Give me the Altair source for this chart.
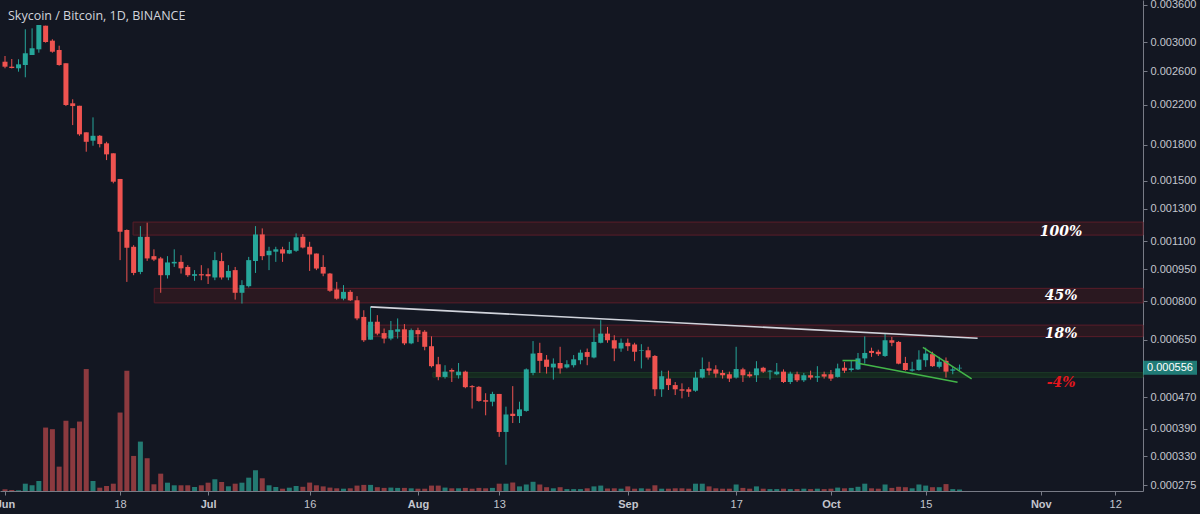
import altair as alt
import pandas as pd

TITLE = "Skycoin / Bitcoin, 1D, BINANCE"

# one daily candle per day, 2018-06-01 .. 2018-10-20
dates = pd.date_range("2018-06-01", periods=142, freq="D").strftime("%Y-%m-%d").tolist()

# prices in micro-BTC (1e-6 BTC)
opens = [2723, 2657, 2636, 2679, 2815, 2895, 3252, 3021, 2885, 2701,
         2215, 2188, 1916, 1837, 1883, 1813, 1724, 1514, 1165, 1068,
         936, 1125, 1017, 1005, 920, 979, 987, 961, 917, 925,
         925, 909, 991, 909, 945, 838, 868, 991, 1139, 1022,
         1041, 1054, 1031, 1046, 1125, 1068, 1031, 961, 928, 853,
         812, 842, 805, 736, 650, 717, 674, 654, 679, 688,
         637, 685, 679, 627, 567, 528, 549, 533, 544, 501,
         499, 462, 458, 479, 383, 427, 421, 434, 540, 604,
         582, 557, 571, 557, 564, 580, 607, 589, 639, 672,
         648, 619, 639, 633, 611, 613, 594, 492, 523, 504,
         492, 492, 488, 526, 554, 551, 540, 536, 526, 551,
         536, 533, 556, 544, 536, 544, 513, 536, 518, 533,
         526, 536, 536, 528, 556, 549, 551, 586, 611, 608,
         594, 648, 642, 571, 547, 549, 580, 600, 559, 578,
         547, 554]
highs = [2801, 2760, 2756, 3195, 3210, 3263, 3252, 3042, 2947, 2701,
         2260, 2188, 1916, 2065, 1890, 1827, 1724, 1514, 1169, 1077,
         1189, 1210, 1054, 1013, 1017, 1054, 1022, 970, 945, 970,
         954, 1040, 1035, 970, 961, 896, 1013, 1189, 1175, 1068,
         1068, 1068, 1096, 1145, 1141, 1096, 1031, 1022, 931, 888,
         873, 850, 823, 763, 777, 743, 691, 720, 730, 708,
         691, 694, 685, 662, 591, 564, 554, 571, 547, 504,
         501, 481, 485, 479, 445, 501, 458, 554, 645, 639,
         597, 586, 625, 580, 597, 615, 619, 691, 723, 697,
         666, 654, 654, 639, 634, 625, 597, 547, 547, 513,
         509, 498, 544, 589, 575, 564, 549, 544, 625, 556,
         544, 577, 559, 549, 571, 551, 544, 544, 540, 547,
         561, 544, 549, 569, 574, 578, 604, 662, 622, 615,
         672, 660, 645, 591, 575, 613, 622, 608, 591, 589,
         559, 566]
lows = [2636, 2634, 2592, 2521, 2815, 2847, 2991, 2847, 2670, 2185,
        1987, 1883, 1738, 1791, 1776, 1666, 1481, 996, 888, 920,
        925, 992, 991, 838, 904, 961, 928, 912, 893, 896,
        878, 896, 899, 896, 808, 791, 862, 931, 996, 945,
        987, 987, 1028, 1040, 1059, 941, 945, 915, 842, 808,
        805, 802, 723, 642, 650, 666, 637, 648, 654, 631,
        634, 642, 613, 557, 518, 523, 513, 523, 495, 440,
        458, 423, 446, 372, 313, 404, 404, 432, 533, 540,
        538, 520, 538, 554, 557, 567, 564, 586, 637, 639,
        577, 608, 611, 577, 554, 582, 473, 471, 490, 476,
        467, 471, 485, 523, 533, 526, 523, 513, 523, 513,
        526, 513, 540, 520, 533, 510, 507, 513, 513, 520,
        513, 523, 516, 526, 540, 544, 549, 569, 591, 594,
        591, 627, 567, 547, 544, 547, 559, 559, 554, 526,
        536, 549]
closes = [2657, 2640, 2688, 2839, 2909, 3263, 3001, 2861, 2679, 2196,
          2185, 1897, 1827, 1883, 1806, 1715, 1493, 1155, 1062, 931,
          1125, 1005, 999, 920, 984, 987, 954, 920, 925, 919,
          915, 996, 909, 941, 838, 873, 996, 1139, 1017, 1046,
          1054, 1031, 1050, 1122, 1064, 1026, 953, 928, 847, 812,
          842, 805, 730, 648, 717, 672, 654, 685, 688, 637,
          685, 670, 625, 561, 528, 544, 544, 544, 498, 498,
          460, 458, 479, 383, 425, 421, 438, 551, 602, 578,
          559, 569, 554, 567, 583, 605, 591, 642, 672, 648,
          619, 639, 627, 608, 613, 589, 492, 530, 504, 492,
          488, 485, 526, 552, 547, 538, 533, 523, 552, 533,
          530, 554, 544, 547, 544, 513, 538, 518, 533, 526,
          530, 529, 523, 554, 547, 554, 586, 604, 604, 600,
          648, 639, 569, 549, 551, 582, 602, 561, 575, 544,
          551, 556]
# volume, thousand SKY
volumes = [1.7, 1.0, 0.7, 7.3, 5.7, 10.0, 63.3, 61.7, 24.3, 70.0,
           62.7, 69.3, 121.7, 10.0, 3.3, 5.0, 7.3, 78.3, 120.0, 35.0,
           49.3, 32.7, 6.7, 17.3, 8.3, 5.7, 5.7, 5.7, 4.0, 5.7,
           8.3, 11.7, 9.0, 4.7, 7.3, 8.3, 13.3, 20.7, 12.7, 5.7,
           4.0, 2.3, 3.3, 5.0, 4.2, 8.4, 5.7, 4.6, 3.4, 2.7,
           2.3, 2.7, 5.4, 6.1, 6.1, 3.8, 3.1, 3.4, 3.1, 3.1,
           2.7, 2.3, 2.3, 5.4, 5.4, 3.4, 2.7, 2.7, 3.1, 2.3,
           3.1, 2.7, 3.1, 7.3, 7.3, 8.4, 4.6, 6.5, 9.2, 6.5,
           3.8, 2.7, 3.8, 1.9, 1.9, 1.9, 2.7, 4.6, 5.4, 2.5,
           2.7, 2.3, 4.6, 2.3, 2.7, 2.3, 5.7, 2.3, 2.3, 2.7,
           2.7, 2.3, 7.3, 7.3, 4.6, 2.7, 2.3, 2.3, 6.5, 3.1,
           2.3, 4.6, 2.3, 1.9, 1.9, 2.3, 1.9, 1.9, 2.3, 1.9,
           2.3, 1.9, 2.3, 3.4, 2.7, 3.1, 4.2, 7.3, 2.7, 2.3,
           6.5, 3.1, 4.2, 3.8, 2.7, 6.5, 5.4, 3.8, 3.8, 6.9,
           1.9, 1.5]

tick_dates = [(2018, 6, 1), (2018, 6, 18), (2018, 7, 1), (2018, 7, 16), (2018, 8, 1), (2018, 8, 13),
              (2018, 9, 1), (2018, 9, 17), (2018, 10, 1), (2018, 10, 15), (2018, 11, 1), (2018, 11, 12)]
price_ticks = [0.0036, 0.003, 0.0026, 0.0022, 0.0018, 0.0015, 0.0013, 0.0011,
               0.00095, 0.0008, 0.00065, 0.00047, 0.00039, 0.00033, 0.000275]

# target zones
zone_start = ["2018-06-19T22:00:00Z", "2018-06-23T01:00:00Z", "2018-07-24T14:00:00Z", "2018-08-03T05:00:00Z"]
zone_low = [0.001135, 0.000794, 0.000661, 0.000527]
zone_high = [0.001214, 0.000858, 0.000704, 0.000541]
zone_kind = ["target", "target", "target", "support"]
zone_label = ["100%", "45%", "18%", "-4%"]
zone_label_price = [0.001155, 0.000823, 0.000670, 0.000509]
zone_label_date = "2018-11-04"
END_DATE = "2018-11-16T02:24:00Z"

# drawn trend lines
trend_dates = ["2018-07-25T00:00:00Z", "2018-10-22T16:00:00Z"]
trend_prices = [0.000777, 0.000655]
wedge_ids = ["top", "top", "bottom", "bottom", "flag", "flag"]
wedge_dates = ["2018-10-14T14:00:00Z", "2018-10-21T19:00:00Z",
               "2018-10-05T00:00:00Z", "2018-10-19T17:00:00Z",
               "2018-10-02T17:00:00Z", "2018-10-05T00:00:00Z"]
wedge_prices = [0.000623, 0.000522, 0.000570, 0.000512, 0.000579, 0.000579]

UP, DOWN = "#26a69a", "#ef5350"
VUP, VDOWN = "#237a72", "#8c3a3f"
BG = "#131722"
TXT = "#c3c6ce"
LINE = "#787b86"

df = pd.DataFrame({
    "date": dates,
    "open": [v * 1e-6 for v in opens],
    "high": [v * 1e-6 for v in highs],
    "low": [v * 1e-6 for v in lows],
    "close": [v * 1e-6 for v in closes],
    "volume": volumes,
})
df["dir"] = ["up" if c >= o else "down" for o, c in zip(df["open"], df["close"])]

zones = pd.DataFrame({"start": zone_start, "end": END_DATE, "low": zone_low,
                      "high": zone_high, "kind": zone_kind})
labels = pd.DataFrame({"date": zone_label_date, "price": zone_label_price,
                       "label": zone_label, "kind": zone_kind})
trend = pd.DataFrame({"date": trend_dates, "price": trend_prices})
wedge = pd.DataFrame({"date": wedge_dates, "price": wedge_prices, "line": wedge_ids})
last = df.tail(1)

xscale = alt.Scale(type="utc", padding=0, domain=[
    alt.DateTime(year=2018, month=5, date=31, hours=6, minutes=16, utc=True),
    alt.DateTime(year=2018, month=11, date=16, hours=2, minutes=24, utc=True)])
yscale = alt.Scale(type="symlog", constant=0.0001, domain=[0.0002645, 0.003689],
                   zero=False, nice=False, padding=0)

xaxis = alt.Axis(
    values=[alt.DateTime(year=y, month=m, date=d, utc=True) for y, m, d in tick_dates],
    labelExpr="utcdate(datum.value) == 1 ? utcFormat(datum.value, '%b') : utcFormat(datum.value, '%d')",
    labelFontWeight={"condition": {"test": "utcdate(datum.value) == 1", "value": "bold"}, "value": "normal"},
    labelFlush=False, labelOverlap=False, tickSize=4, labelPadding=3,
    labelColor=TXT, labelFontSize=11, labelFont="Liberation Sans",
    tickColor=LINE, domainColor=LINE, grid=False, title=None)
yaxis = alt.Axis(
    orient="right", values=price_ticks, format=".6f", labelFlush=False, labelOverlap=False,
    tickSize=4, labelPadding=3, labelColor=TXT, labelFontSize=11, labelFont="Liberation Sans",
    tickColor=LINE, domainColor=LINE, grid=False, title=None)

X = alt.X("date:T", scale=xscale, axis=xaxis)
candle_color = alt.Color("dir:N", scale=alt.Scale(domain=["up", "down"], range=[UP, DOWN]), legend=None)

red_zones = alt.Chart(zones).transform_filter("datum.kind == 'target'").mark_rect(
    fill="#2a1820", stroke="#5a1d29", strokeWidth=1).encode(
    x=alt.X("start:T", scale=xscale, axis=xaxis), x2="end:T",
    y=alt.Y("low:Q", scale=yscale, axis=yaxis), y2="high:Q")
green_zone = alt.Chart(zones).transform_filter("datum.kind == 'support'").mark_rect(
    fill="#15291f", stroke="#1b3a27", strokeWidth=1).encode(
    x=alt.X("start:T", scale=xscale, axis=xaxis), x2="end:T",
    y=alt.Y("low:Q", scale=yscale, axis=yaxis), y2="high:Q")

wicks = alt.Chart(df).mark_rule(strokeWidth=1).encode(
    x=X, y=alt.Y("low:Q", scale=yscale, axis=yaxis), y2="high:Q", color=candle_color)
bodies = alt.Chart(df).mark_bar(size=5).encode(
    x=X, y=alt.Y("open:Q", scale=yscale, axis=yaxis), y2="close:Q", color=candle_color)

trend_line = alt.Chart(trend).mark_line(color="#d1d4dc", strokeWidth=1.6).encode(
    x=X, y=alt.Y("price:Q", scale=yscale, axis=yaxis))
wedge_lines = alt.Chart(wedge).mark_line(color="#43b649", strokeWidth=1.6).encode(
    x=X, y=alt.Y("price:Q", scale=yscale, axis=yaxis), detail="line:N")

label_white = alt.Chart(labels).transform_filter("datum.kind == 'target'").mark_text(
    font="DejaVu Serif", fontSize=14, fontWeight="bold", fontStyle="italic",
    color="#ffffff", align="center", baseline="middle").encode(
    x=X, y=alt.Y("price:Q", scale=yscale, axis=yaxis), text="label:N")
label_red = alt.Chart(labels).transform_filter("datum.kind == 'support'").mark_text(
    font="DejaVu Serif", fontSize=14, fontWeight="bold", fontStyle="italic",
    color="#e3161d", align="center", baseline="middle").encode(
    x=X, y=alt.Y("price:Q", scale=yscale, axis=yaxis), text="label:N")

price_tag = alt.Chart(last).mark_tick(color=UP, size=54, thickness=14, clip=False,
                                      orient="horizontal").encode(
    x=alt.value(1170), y=alt.Y("close:Q", scale=yscale, axis=yaxis))
price_text = alt.Chart(last).mark_text(color="#ffffff", fontSize=11, font="Liberation Sans",
                                       align="center", baseline="middle", clip=False).encode(
    x=alt.value(1170), y=alt.Y("close:Q", scale=yscale, axis=yaxis),
    text=alt.Text("close:Q", format=".6f"))

title = alt.Chart(pd.DataFrame({"t": [TITLE]})).mark_text(
    color="#d1d4dc", fontSize=12.5, font="Open Sans", align="left", baseline="middle").encode(
    x=alt.value(8), y=alt.value(16), text="t:N")

vol = alt.Chart(df).mark_bar(size=5).encode(
    x=X,
    y=alt.Y("volume:Q", scale=alt.Scale(domain=[0, 490], nice=False, zero=True), axis=None),
    color=alt.Color("dir:N", scale=alt.Scale(domain=["up", "down"], range=[VUP, VDOWN]), legend=None))

price_layer = alt.layer(red_zones, green_zone, wicks, bodies, trend_line, wedge_lines,
                        label_white, label_red, price_tag, price_text, title)

chart = alt.layer(vol, price_layer).resolve_scale(y="independent", color="independent").properties(
    width=1143, height=491,
    padding={"left": 0, "top": 0, "right": 57, "bottom": 23},
    autosize=alt.AutoSizeParams(type="none"),
).configure(background=BG).configure_view(strokeWidth=0)

chart.save("out.html", embed_options={"renderer": "svg", "actions": False})
